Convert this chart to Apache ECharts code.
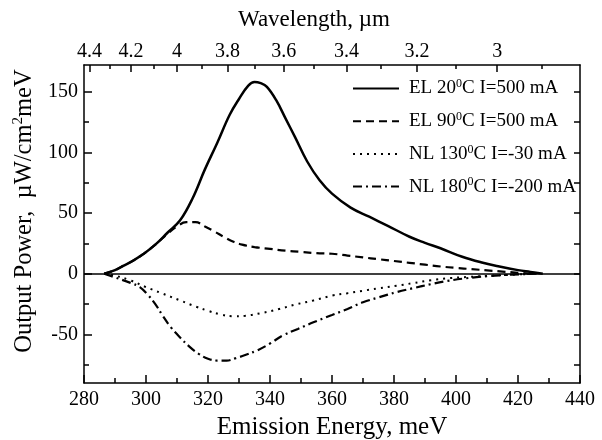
<!DOCTYPE html>
<html>
<head>
<meta charset="utf-8">
<script src="https://cdn.jsdelivr.net/npm/echarts@6/dist/echarts.min.js"></script>
<style>
  html, body { margin: 0; padding: 0; background: #fff; }
  #chart { width: 602px; height: 440px; }
</style>
</head>
<body>
<div id="chart"></div>
<script>
// 数据
var seriesNames = ['EL 20°C I=500 mA', 'EL 90°C I=500 mA', 'NL 130°C I=-30 mA', 'NL 180°C I=-200 mA'];

var el20E = [286.5, 290, 293, 296, 299, 303, 307, 311, 315, 319, 323, 327, 330, 333, 335, 337, 339, 342, 345, 348, 352, 356, 360, 366, 372, 378, 385, 390, 395, 402, 408, 414, 420, 424, 428];
var el20V = [0, 3, 7, 11, 16, 24, 34, 44, 62, 86, 108, 131, 144, 155, 158, 157, 154, 143, 128, 113, 92.5, 77, 66, 54.5, 47, 39.5, 30.5, 25.5, 21, 14, 9.5, 6, 3, 1.5, 0];

var el90E = [286.5, 290, 293, 296, 299, 303, 307, 310, 313, 316, 319, 322, 325, 328, 331, 335, 340, 345, 350, 355, 360, 365, 370, 375, 380, 385, 390, 395, 400, 405, 410, 415, 420, 424];
var el90V = [0, 3, 7, 11, 16, 24, 33, 39, 42.5, 42.5, 39, 35, 30.5, 26.5, 24, 22, 20.5, 19, 18, 17, 16.5, 15, 13.5, 12, 10.5, 9, 7.5, 6, 4.8, 3.8, 2.8, 1.8, 0.8, 0];

var nl130E = [286.5, 290, 295, 300, 305, 311, 316, 320, 324, 328, 332, 337, 343, 348, 354, 360, 365, 370, 375, 381, 386, 392, 398, 404, 410, 418, 424];
var nl130V = [0, -1.5, -5.5, -11, -16, -22, -27, -30.5, -33.5, -35, -34.6, -32.5, -29, -25.5, -22, -18, -16, -14, -12, -9.8, -7.8, -5.3, -3.6, -2.6, -1.8, -0.8, 0];

var nl180E = [286.5, 290, 295, 298, 300.5, 303, 305.5, 308, 311, 314, 317, 320, 323, 326, 329, 332, 336, 340, 344, 349, 354, 360, 365, 370, 375, 381, 386, 392, 397, 403, 410, 418, 426];
var nl180V = [0, -3, -7.5, -11, -17, -25, -35, -44, -52.5, -60, -66, -70, -71.5, -71.5, -69.5, -67, -63, -57.5, -51, -45.5, -40, -34, -29, -23.5, -19.5, -15, -12, -8.5, -6, -3.8, -2, -0.7, 0];

// 刻度
var yMajor = [-50, 0, 50, 100, 150];
var yMinor = [-75, -25, 25, 75, 125];
var yRight = [-75, -50, -25, 0, 25, 50, 75, 100, 125, 150];
var wlMajor = [4.4, 4.2, 4.0, 3.8, 3.6, 3.4, 3.2, 3.0];
var wlMinor = [4.3, 4.1, 3.9, 3.7, 3.5, 3.3, 3.1, 2.9];

// 波长(µm) -> 能量(meV)
var HC = 1239.84;
function toE(wl) { return HC / wl; }
function zip(xs, ys) {
  var res = [];
  for (var i = 0; i < xs.length; i++) res.push([xs[i], ys[i]]);
  return res;
}

var font = 'Liberation Serif';
var black = '#000';

function frameAxis(extra) {
  var a = {
    type: 'value',
    axisLine: { show: true, onZero: false, lineStyle: { color: black, width: 1.5 } },
    axisTick: { show: true, inside: true, length: 8, lineStyle: { color: black, width: 1.5 } },
    axisLabel: { show: false },
    splitLine: { show: false }
  };
  for (var k in extra) a[k] = extra[k];
  return a;
}

var dom = document.getElementById('chart');
var myChart = echarts.init(dom);

var option = {
  animation: false,
  backgroundColor: '#fff',
  textStyle: { fontFamily: font, color: black },
  grid: { left: 84, right: 22, top: 65, bottom: 57, outerBoundsMode: 'none' },
  legend: {
    orient: 'vertical',
    left: 352,
    top: 78,
    padding: 0,
    itemWidth: 46,
    itemHeight: 12,
    itemGap: 12.7,
    itemStyle: { opacity: 0 },
    data: seriesNames,
    formatter: function (name) {
      return '{a|' + name.replace('°', '}{s|0}{a|') + '}';
    },
    textStyle: {
      padding: [0, 0, 0, 5],
      rich: {
        a: { fontFamily: font, fontSize: 19, color: black, lineHeight: 21 },
        s: { fontFamily: font, fontSize: 12, color: black, lineHeight: 21, verticalAlign: 'top' }
      }
    }
  },
  xAxis: [
    frameAxis({
      min: 280, max: 440, interval: 20, position: 'bottom',
      minorTick: { show: true, splitNumber: 2, length: 5, lineStyle: { color: black, width: 1.5 } },
      axisLabel: { show: true, fontFamily: font, fontSize: 20, color: black, margin: 7 },
      name: 'Emission Energy, meV',
      nameLocation: 'middle',
      nameGap: 26,
      nameTextStyle: { fontFamily: font, fontSize: 25, color: black }
    }),
    frameAxis({
      min: 280, max: 440, position: 'top',
      axisTick: { show: true, inside: true, length: 7, customValues: wlMajor.map(toE), lineStyle: { color: black, width: 1.5 } },
      axisLabel: {
        show: true, fontFamily: font, fontSize: 20, color: black, margin: 3,
        customValues: wlMajor.map(toE),
        formatter: function (v) { return String(parseFloat((HC / v).toFixed(1))); }
      },
      name: 'Wavelength, µm',
      nameLocation: 'middle',
      nameGap: 34,
      nameTextStyle: { fontFamily: font, fontSize: 23, color: black, padding: [0, 36, 0, 0] }
    }),
    frameAxis({
      min: 280, max: 440, position: 'top',
      axisLine: { show: false, onZero: false },
      axisTick: { show: true, inside: true, length: 4, customValues: wlMinor.map(toE), lineStyle: { color: black, width: 1.5 } }
    })
  ],
  yAxis: [
    frameAxis({
      min: -90, max: 172, position: 'left',
      axisTick: { show: true, inside: true, length: 8, customValues: yMajor, lineStyle: { color: black, width: 1.5 } },
      axisLabel: { show: true, fontFamily: font, fontSize: 20, color: black, margin: 6, customValues: yMajor },
      name: '{a|Output Power,  µW/cm}{s|2}{a|meV}',
      nameLocation: 'middle',
      nameRotate: 90,
      nameGap: 44,
      nameTextStyle: {
        padding: [0, 0, 0, 26],
        rich: {
          a: { fontFamily: font, fontSize: 24.5, color: black, lineHeight: 28 },
          s: { fontFamily: font, fontSize: 15, color: black, lineHeight: 28, verticalAlign: 'top' }
        }
      }
    }),
    frameAxis({
      min: -90, max: 172, position: 'left',
      axisLine: { show: false, onZero: false },
      axisTick: { show: true, inside: true, length: 5, customValues: yMinor, lineStyle: { color: black, width: 1.5 } }
    }),
    frameAxis({
      min: -90, max: 172, position: 'right',
      axisTick: { show: true, inside: true, length: 6, customValues: yRight, lineStyle: { color: black, width: 1.5 } }
    })
  ],
  series: [
    {
      name: seriesNames[0], type: 'line', symbol: 'none', smooth: 0.4,
      lineStyle: { color: black, width: 2.5, type: 'solid' },
      itemStyle: { color: black },
      data: zip(el20E, el20V),
      markLine: {
        silent: true, symbol: ['none', 'none'],
        label: { show: false },
        lineStyle: { color: black, width: 1.5, type: 'solid' },
        data: [{ yAxis: 0 }]
      }
    },
    {
      name: seriesNames[1], type: 'line', symbol: 'none', smooth: 0.4,
      lineStyle: { color: black, width: 2.2, type: [8, 5] },
      itemStyle: { color: black },
      data: zip(el90E, el90V)
    },
    {
      name: seriesNames[2], type: 'line', symbol: 'none', smooth: 0.4,
      lineStyle: { color: black, width: 2, type: [2, 5] },
      itemStyle: { color: black },
      data: zip(nl130E, nl130V)
    },
    {
      name: seriesNames[3], type: 'line', symbol: 'none', smooth: 0.4,
      lineStyle: { color: black, width: 2.2, type: [9, 4, 2, 4] },
      itemStyle: { color: black },
      data: zip(nl180E, nl180V)
    }
  ]
};

myChart.setOption(option, true);
</script>
</body>
</html>
